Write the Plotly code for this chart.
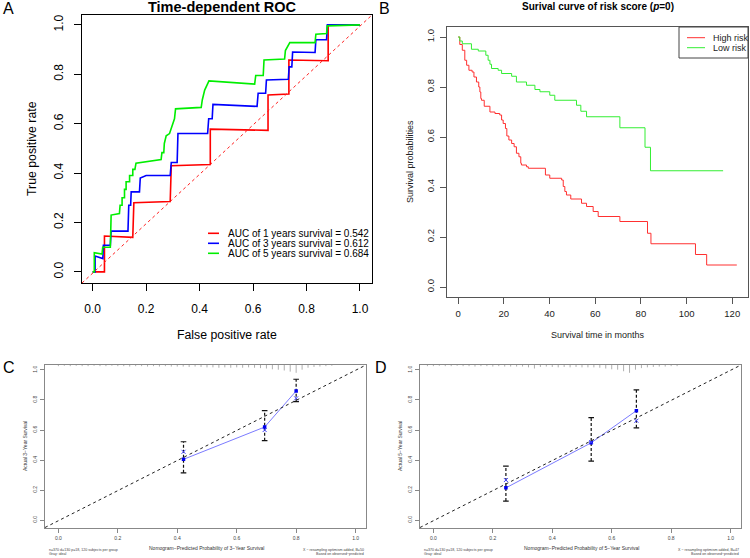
import plotly.graph_objects as go

W, H = 750, 558
FONT = "Liberation Sans, Arial, sans-serif"

# ---------------- Panel A: time-dependent ROC ----------------
fpr_1y = [0, 0.044, 0.044, 0.15, 0.154, 0.29, 0.294, 0.44, 0.44, 0.656, 0.656, 0.734, 0.734, 0.881, 0.881, 1.0]
tpr_1y = [0, 0, 0.145, 0.14, 0.28, 0.285, 0.43, 0.435, 0.578, 0.573, 0.716, 0.72, 0.858, 0.855, 1.0, 1.0]

fpr_3y = [0, 0.009, 0.009, 0.038, 0.04, 0.066, 0.069, 0.132, 0.135, 0.142, 0.144, 0.175, 0.178, 0.2, 0.29,
          0.294, 0.316, 0.319, 0.43, 0.434, 0.447, 0.45, 0.615, 0.619, 0.647, 0.65, 0.732, 0.735, 0.745,
          0.748, 0.832, 0.835, 0.875, 0.878, 1.0]
tpr_3y = [0, 0, 0.064, 0.054, 0.108, 0.108, 0.165, 0.165, 0.27, 0.27, 0.324, 0.324, 0.38, 0.39, 0.39,
          0.443, 0.443, 0.56, 0.56, 0.62, 0.62, 0.678, 0.67, 0.723, 0.723, 0.777, 0.78, 0.83, 0.83,
          0.89, 0.888, 0.94, 0.94, 1.0, 1.0]

fpr_5y = [0, 0.006, 0.006, 0.035, 0.0375, 0.066, 0.069, 0.1, 0.1025, 0.11, 0.11, 0.119, 0.119, 0.125, 0.125,
          0.138, 0.138, 0.15, 0.15, 0.158, 0.162, 0.256, 0.259, 0.266, 0.268, 0.275, 0.2875, 0.306, 0.31,
          0.406, 0.41, 0.419, 0.435, 0.606, 0.61, 0.638, 0.641, 0.718, 0.721, 0.7375, 0.832, 0.835,
          0.875, 0.8775, 1.0]
tpr_5y = [0, 0, 0.078, 0.072, 0.1, 0.1, 0.23, 0.236, 0.27, 0.27, 0.3, 0.3, 0.334, 0.334, 0.365,
          0.365, 0.39, 0.39, 0.415, 0.415, 0.44, 0.455, 0.483, 0.483, 0.52, 0.551, 0.56, 0.62, 0.66,
          0.666, 0.696, 0.736, 0.773, 0.76, 0.795, 0.795, 0.858, 0.862, 0.896, 0.928, 0.928, 0.962,
          0.965, 0.996, 1.0]

roc_labels = ["AUC of 1 years survival = 0.542", "AUC of 3 years survival = 0.612",
              "AUC of 5 years survival = 0.684"]
roc_colors = ["#ff0000", "#0000ff", "#00ee00"]
roc_ticks = [0, 0.2, 0.4, 0.6, 0.8, 1.0]
roc_ticktext = ["0.0", "0.2", "0.4", "0.6", "0.8", "1.0"]

# ---------------- Panel B: Kaplan-Meier ----------------
hr_t = [0, 0.7, 1.8, 2.9, 3.7, 4.7, 6.1, 6.9, 8.0, 9.0, 9.5, 9.9, 10.2, 11.4, 13.9, 16.1, 18.2, 19.0, 19.7,
        20.7, 21.3, 22.2, 23.4, 24.5, 25.5, 26.6, 27.4, 27.7, 29.9, 30.7, 38.2, 40.1, 45.3, 46.0, 46.7,
        47.4, 49.3, 54.0, 56.2, 59.1, 61.3, 70.8, 82.9, 84.4, 103.9, 108.8, 122.0]
hr_s = [1.0, 0.97, 0.947, 0.907, 0.887, 0.867, 0.86, 0.84, 0.82, 0.80, 0.78, 0.754, 0.747, 0.723, 0.70,
        0.694, 0.688, 0.668, 0.654, 0.634, 0.604, 0.588, 0.574, 0.561, 0.535, 0.521, 0.495, 0.488, 0.481,
        0.475, 0.448, 0.435, 0.428, 0.402, 0.382, 0.368, 0.352, 0.335, 0.322, 0.302, 0.282, 0.262,
        0.215, 0.173, 0.13, 0.088, 0.088]
lr_t = [0, 0.7, 1.8, 5.8, 8.8, 12.1, 13.1, 13.9, 14.6, 17.5, 19.0, 23.4, 25.5, 29.9, 33.6, 35.8, 40.1,
        42.3, 51.8, 53.7, 56.2, 70.8, 81.8, 84.2, 116.0]
lr_s = [1.0, 0.984, 0.973, 0.951, 0.944, 0.927, 0.907, 0.891, 0.874, 0.867, 0.854, 0.843, 0.82, 0.807,
        0.79, 0.781, 0.767, 0.747, 0.727, 0.703, 0.681, 0.637, 0.559, 0.465, 0.465]
km_xticks = [0, 20, 40, 60, 80, 100, 120]
km_yticks = [0, 0.2, 0.4, 0.6, 0.8, 1.0]
km_ytext = ["0.0", "0.2", "0.4", "0.6", "0.8", "1.0"]

# ---------------- Panels C / D: calibration ----------------
c_pred = [0.421, 0.694, 0.80]
c_obs = [0.405, 0.62, 0.86]
c_lo = [0.315, 0.529, 0.789]
c_hi = [0.522, 0.729, 0.938]
c_corr = [0.455, 0.60, 0.811]

d_pred = [0.244, 0.531, 0.683]
d_obs = [0.215, 0.515, 0.729]
d_lo = [0.127, 0.393, 0.615]
d_hi = [0.36, 0.682, 0.867]
d_corr = [0.267, 0.52, 0.662]

c_rug_x = [round(0.02 * i, 2) for i in range(47)]
c_rug_h = [0.15, 0.1, 0.15, 0.1, 0.15, 0.15, 0.1, 0.15, 0.15, 0.1, 0.15, 0.15, 0.2, 0.15, 0.15, 0.2,
           0.15, 0.2, 0.15, 0.2, 0.2, 0.2, 0.25, 0.2, 0.25, 0.3, 0.3, 0.35, 0.3, 0.35, 0.3, 0.35, 0.3,
           0.35, 0.4, 0.45, 0.55, 0.6, 0.7, 0.85, 1.0, 0.6, 0.35, 0.25, 0.2, 0.15, 0.1]
d_rug_x = [round(-0.02 + 0.02 * i, 2) for i in range(43)]
d_rug_h = [0.15, 0.15, 0.1, 0.15, 0.15, 0.1, 0.15, 0.15, 0.2, 0.15, 0.15, 0.2, 0.15, 0.2, 0.2, 0.2,
           0.2, 0.3, 0.45, 0.25, 0.2, 0.25, 0.3, 0.25, 0.3, 0.25, 0.3, 0.3, 0.3, 0.35, 0.45, 0.55,
           0.6, 0.8, 1.0, 0.6, 0.4, 0.3, 0.25, 0.2, 0.2, 0.15, 0.15]
cal_ticks = [0, 0.2, 0.4, 0.6, 0.8, 1.0]
cal_ticktext = ["0.0", "0.2", "0.4", "0.6", "0.8", "1.0"]


def PX(x):
    return x / W


def PY(y):
    return 1 - y / H


fig = go.Figure()

# A curves
for fx, ty, col in [(fpr_1y, tpr_1y, roc_colors[0]), (fpr_3y, tpr_3y, roc_colors[1]),
                    (fpr_5y, tpr_5y, roc_colors[2])]:
    fig.add_trace(go.Scatter(x=fx, y=ty, mode="lines", line=dict(color=col, width=1.6),
                             xaxis="x", yaxis="y", showlegend=False, hoverinfo="skip"))

# B curves
fig.add_trace(go.Scatter(x=hr_t, y=hr_s, mode="lines", line=dict(color="#ff3030", width=1, shape="hv"),
                         xaxis="x2", yaxis="y2", showlegend=False, hoverinfo="skip"))
fig.add_trace(go.Scatter(x=lr_t, y=lr_s, mode="lines", line=dict(color="#33ee33", width=1, shape="hv"),
                         xaxis="x2", yaxis="y2", showlegend=False, hoverinfo="skip"))


def cal_traces(pred, obs, lo, hi, corr, rx, rh, xa, ya, ytop):
    # rug at top
    sx, sy = [], []
    for x, h in zip(rx, rh):
        sx += [x, x, None]
        sy += [ytop, ytop - 0.052 * h, None]
    fig.add_trace(go.Scatter(x=sx, y=sy, mode="lines", line=dict(color="#9a9a9a", width=0.8),
                             xaxis=xa, yaxis=ya, showlegend=False, hoverinfo="skip"))
    # error bars
    ex, ey = [], []
    for x, l, h in zip(pred, lo, hi):
        ex += [x, x, None]
        ey += [l, h, None]
    fig.add_trace(go.Scatter(x=ex, y=ey, mode="lines", line=dict(color="#111111", width=1.2, dash="3px,2px"),
                             xaxis=xa, yaxis=ya, showlegend=False, hoverinfo="skip"))
    fig.add_trace(go.Scatter(x=pred + pred, y=lo + hi, mode="markers",
                             marker=dict(symbol="line-ew", size=4, line=dict(color="#111111", width=1.2)),
                             xaxis=xa, yaxis=ya, showlegend=False, hoverinfo="skip"))
    # line + points
    fig.add_trace(go.Scatter(x=pred, y=obs, mode="lines+markers", line=dict(color="#7b7bff", width=1),
                             marker=dict(color="#0000ee", size=3.5, symbol="square"),
                             xaxis=xa, yaxis=ya, showlegend=False, hoverinfo="skip"))
    fig.add_trace(go.Scatter(x=pred, y=corr, mode="markers",
                             marker=dict(symbol="x-thin", size=4, line=dict(color="#4040ff", width=1)),
                             xaxis=xa, yaxis=ya, showlegend=False, hoverinfo="skip"))


cal_traces(c_pred, c_obs, c_lo, c_hi, c_corr, c_rug_x, c_rug_h, "x3", "y3", 1.033)
cal_traces(d_pred, d_obs, d_lo, d_hi, d_corr, d_rug_x, d_rug_h, "x4", "y4", 1.033)


def axis(dom, rng, tv, tt, lc, tc, fs, tl, anchor, angle=0, standoff=None, lw=1):
    d = dict(domain=dom, range=rng, tickvals=tv, ticktext=tt, showline=True, linecolor=lc, linewidth=lw,
             mirror=True, ticks="outside", ticklen=tl, tickcolor=lc, tickwidth=1,
             tickfont=dict(family=FONT, size=fs, color=tc), showgrid=False, zeroline=False,
             anchor=anchor, tickangle=angle, fixedrange=True)
    if standoff is not None:
        d["ticklabelstandoff"] = standoff
    return d


layout = dict(
    width=W, height=H, margin=dict(l=0, r=0, t=0, b=0), paper_bgcolor="white", plot_bgcolor="white",
    font=dict(family=FONT),
    xaxis=axis([PX(82), PX(372)], [-0.04, 1.045], roc_ticks, roc_ticktext, "#000", "#000", 12, 7, "y",
               standoff=7, lw=1.2),
    yaxis=axis([PY(283), PY(15)], [-0.045, 1.04], roc_ticks, roc_ticktext, "#000", "#000", 12, 7, "x",
               angle=-90, standoff=6, lw=1.2),
    xaxis2=axis([PX(447), PX(748)], [-4.9, 126.9], km_xticks, [str(v) for v in km_xticks], "#555",
                "#222", 9.5, 6, "y2", standoff=2),
    yaxis2=axis([PY(297), PY(27)], [-0.04, 1.04], km_yticks, km_ytext, "#555", "#222", 9.5, 6, "x2",
                angle=-90, standoff=2),
    xaxis3=axis([PX(45), PX(366)], [-0.045, 1.035], cal_ticks, cal_ticktext, "#888", "#444", 5, 4, "y3",
                standoff=1),
    yaxis3=axis([PY(527.5), PY(365)], [-0.049, 1.033], cal_ticks, cal_ticktext, "#888", "#444", 5, 4, "x3",
                angle=-90, standoff=1),
    xaxis4=axis([PX(420), PX(741)], [-0.045, 1.035], cal_ticks, cal_ticktext, "#888", "#444", 5, 4, "y4",
                standoff=1),
    yaxis4=axis([PY(527.5), PY(365)], [-0.049, 1.033], cal_ticks, cal_ticktext, "#888", "#444", 5, 4, "x4",
                angle=-90, standoff=1),
)

shapes = [
    # A reference diagonal
    dict(type="line", xref="x domain", yref="y domain", x0=0, y0=0, x1=1, y1=1,
         line=dict(color="#ff2020", width=1, dash="3px,3px")),
    # C and D ideal lines
    dict(type="line", xref="x3 domain", yref="y3 domain", x0=0, y0=0, x1=1, y1=1,
         line=dict(color="#222", width=1, dash="dot")),
    dict(type="line", xref="x4 domain", yref="y4 domain", x0=0, y0=0, x1=1, y1=1,
         line=dict(color="#222", width=1, dash="dot")),
    # B legend box
    dict(type="rect", xref="paper", yref="paper", x0=PX(679), x1=PX(748), y0=PY(58), y1=PY(27),
         line=dict(color="#444", width=1), fillcolor="white", layer="above"),
]
annotations = []

# A legend
for i, (lab, col) in enumerate(zip(roc_labels, roc_colors)):
    yy = 233.3 + 10 * i
    shapes.append(dict(type="line", xref="paper", yref="paper", x0=PX(208), x1=PX(219), y0=PY(yy), y1=PY(yy),
                       line=dict(color=col, width=1.6)))
    annotations.append(dict(x=PX(226), y=PY(yy), xref="paper", yref="paper", text=lab, showarrow=False,
                            xanchor="left", yanchor="middle", font=dict(size=10, color="#000", family=FONT)))

# B legend
for i, (lab, col) in enumerate([("High risk", "#ff3030"), ("Low risk", "#33ee33")]):
    yy = 37.7 + 10 * i
    shapes.append(dict(type="line", xref="paper", yref="paper", x0=PX(687), x1=PX(705), y0=PY(yy), y1=PY(yy),
                       line=dict(color=col, width=1)))
    annotations.append(dict(x=PX(711), y=PY(yy), xref="paper", yref="paper", text=lab, showarrow=False,
                            xanchor="left", yanchor="middle", font=dict(size=9, color="#222", family=FONT)))


def text(x, y, s, size, color="#000", angle=0, xanchor="center"):
    annotations.append(dict(x=PX(x), y=PY(y), xref="paper", yref="paper", text=s, showarrow=False,
                            xanchor=xanchor, yanchor="middle", textangle=angle,
                            font=dict(size=size, color=color, family=FONT)))


# panel letters
text(8, 9, "A", 16)
text(384, 9, "B", 16)
text(9, 367, "C", 16)
text(381, 367, "D", 16)

# A titles
text(222, 7, "<b>Time-dependent ROC</b>", 14.5)
text(227, 335, "False positive rate", 12.3)
text(32, 149, "True positive rate", 12.3, angle=-90)

# B titles
text(598, 7, "<b>Surival curve of risk score (<i>p</i>=0)</b>", 10)
text(598, 335, "Survival time in months", 9, "#222")
text(410, 162, "Survival probabilities", 9, "#222", angle=-90)

# C / D titles and notes
for off, yr, bval in [(0, "3", "50"), (375, "5", "47")]:
    text(206 + off, 548, "Nomogram\u2212Predicted Probability of %s\u2212Year Survival" % yr, 5, "#333")
    text(25 + off, 446, "Actual %s\u2212Year Survival" % yr, 5, "#333", angle=-90)
    text(47 + off, 549.5, "n=370 d=130 p=18, 120 subjects per group", 3.6, "#444", xanchor="left")
    text(47 + off, 554, "Gray: ideal", 3.6, "#444", xanchor="left")
    text(366 + off, 549.5, "X \u2212 resampling optimism added, B=%s" % bval, 3.6, "#444", xanchor="right")
    text(366 + off, 554, "Based on observed\u2212predicted", 3.6, "#444", xanchor="right")

layout["shapes"] = shapes
layout["annotations"] = annotations
fig.update_layout(**layout)
fig.write_html("out.html", config={"displayModeBar": False, "staticPlot": True},
               post_script="document.body.style.margin='0';document.body.style.overflow='hidden';")
